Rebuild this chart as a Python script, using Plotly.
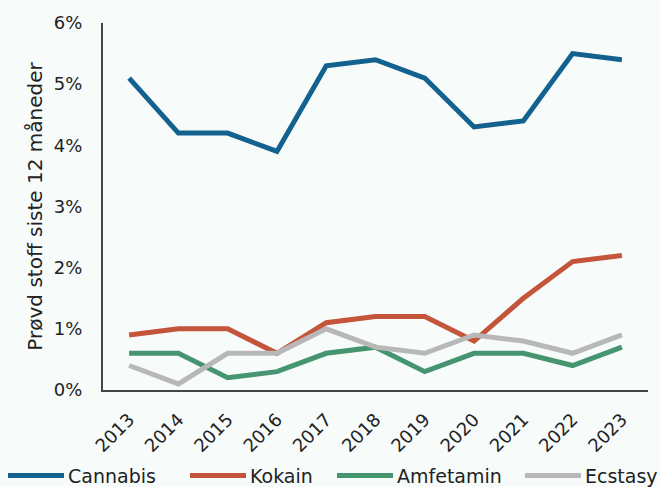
import plotly.graph_objects as go

years = ["2013", "2014", "2015", "2016", "2017", "2018", "2019", "2020", "2021", "2022", "2023"]
cannabis = [5.1, 4.2, 4.2, 3.9, 5.3, 5.4, 5.1, 4.3, 4.4, 5.5, 5.4]
kokain = [0.9, 1.0, 1.0, 0.6, 1.1, 1.2, 1.2, 0.8, 1.5, 2.1, 2.2]
amfetamin = [0.6, 0.6, 0.2, 0.3, 0.6, 0.7, 0.3, 0.6, 0.6, 0.4, 0.7]
ecstasy = [0.4, 0.1, 0.6, 0.6, 1.0, 0.7, 0.6, 0.9, 0.8, 0.6, 0.9]

series = [
    ("Cannabis", cannabis, "#13618f"),
    ("Kokain", kokain, "#c4553a"),
    ("Amfetamin", amfetamin, "#459570"),
    ("Ecstasy", ecstasy, "#b8b8b8"),
]

FONT = "'DejaVu Sans', sans-serif"
BG = "#f7fbfa"
TXT = "#222222"

W, H = 660, 487
ML, MR, MT, MB = 103, 12, 21, 97
PW, PH = W - ML - MR, H - MT - MB


def px_x(px):
    return (px - ML) / PW


def px_y(py):
    return (H - MB - py) / PH


fig = go.Figure()
for name, vals, col in series:
    fig.add_trace(go.Scatter(
        x=list(range(len(years))), y=[v / 100 for v in vals], name=name, mode="lines",
        line=dict(color=col, width=5), showlegend=False,
    ))

# legend row along the bottom: long line swatch followed by the series name
legend_starts = [8, 190, 337, 525]
swatch_len = 56
leg_y = px_y(476)
for (name, _, col), x0 in zip(series, legend_starts):
    fig.add_shape(type="line", xref="paper", yref="paper",
                  x0=px_x(x0), x1=px_x(x0 + swatch_len), y0=leg_y, y1=leg_y,
                  line=dict(color=col, width=5))
    fig.add_annotation(xref="paper", yref="paper", x=px_x(x0 + swatch_len + 2), y=leg_y,
                       text=name, showarrow=False, xanchor="left", yanchor="middle",
                       font=dict(size=19, color=TXT, family=FONT))

fig.update_layout(
    width=W, height=H,
    paper_bgcolor=BG, plot_bgcolor=BG,
    margin=dict(l=ML, r=MR, t=MT, b=MB),
    font=dict(family=FONT, color=TXT),
    showlegend=False,
    xaxis=dict(
        tickmode="array", tickvals=list(range(len(years))), ticktext=years,
        range=[-0.53, 10.53], tickangle=-45, tickfont=dict(size=18, color=TXT),
        showgrid=False, zeroline=False, showline=True, linecolor="#444444", linewidth=2,
        ticks="", ticklabelstandoff=10,
    ),
    yaxis=dict(
        range=[0, 0.06], dtick=0.01, tickformat=".0%",
        tickfont=dict(size=18, color=TXT),
        showgrid=False, zeroline=False, showline=True, linecolor="#444444", linewidth=2,
        ticks="", ticklabelstandoff=15,
        title=dict(text="Prøvd stoff siste 12 måneder", font=dict(size=20, color=TXT), standoff=6),
    ),
)

fig.write_html("out.html")
